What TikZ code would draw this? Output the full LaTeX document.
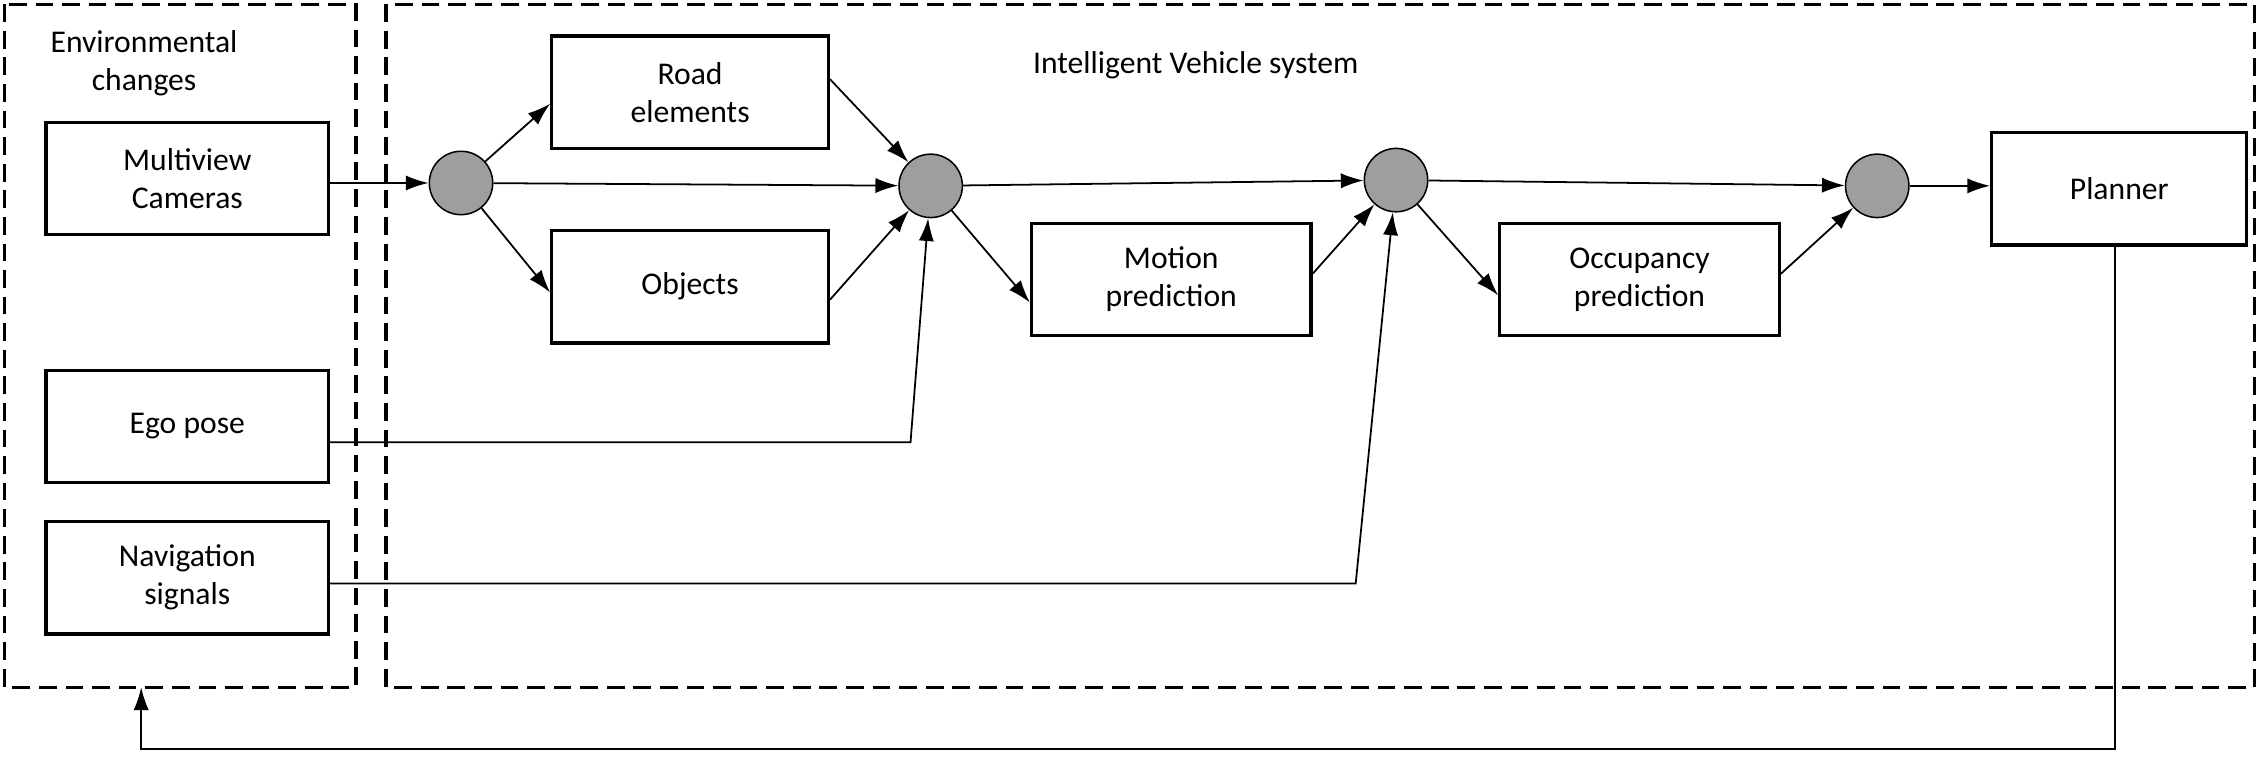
\documentclass[tikz,border=0pt]{standalone}
\usetikzlibrary{arrows.meta}
\usepackage{fontspec}
\setmainfont{Carlito}
\begin{document}
\begin{tikzpicture}[x=0.02cm,y=-0.02cm,
  box/.style={draw,line width=1.3pt,minimum width=196*0.02cm,minimum height=78*0.02cm,align=center,font=\fontsize{12.5}{15}\selectfont},
  hub/.style={circle,draw,fill=black!38,line width=0.6pt,minimum size=44*0.02cm,inner sep=0pt},
  frame/.style={line width=1.3pt,dash pattern=on 7pt off 3.5pt},
  arr/.style={line width=0.7pt,-{Latex[length=9pt,width=6pt]}},
  lbl/.style={font=\fontsize{12.5}{15}\selectfont,align=center}]
\useasboundingbox (0,0) rectangle (1568,525);
\draw[frame] (3,3) rectangle (247,477);
\draw[frame] (268,3) rectangle (1565,477);
\node[lbl] (env) at (100,44) {Environmental\\changes};
\node[lbl] (ivs) at (830,45) {Intelligent Vehicle system};
\node[box] (cam) at (130,124) {Multiview\\Cameras};
\node[box] (ego) at (130,296) {Ego pose};
\node[box] (nav) at (130,401) {Navigation\\signals};
\node[box,minimum width=192*0.02cm] (road) at (479,64) {Road\\elements};
\node[box,minimum width=192*0.02cm] (obj) at (479,199) {Objects};
\node[box,minimum width=194*0.02cm] (mot) at (813,194) {Motion\\prediction};
\node[box,minimum width=194*0.02cm] (occ) at (1138,194) {Occupancy\\prediction};
\node[box,minimum width=177*0.02cm] (plan) at (1471,131) {Planner};
\node[hub] (c1) at (320,127) {};
\node[hub] (c2) at (646,129) {};
\node[hub] (c3) at (969,125) {};
\node[hub] (c4) at (1303,129) {};
\coordinate (egoK) at (632,307);
\coordinate (navK) at (941,405);
\coordinate (fb1) at (1468,520);
\coordinate (fb2) at (98,520);
\coordinate (envB) at (98,477);
\draw[arr] (cam.east|-c1) -- (c1);
\draw[arr] (c1) -- (road.west|-0,72);
\draw[arr] (c1) -- (obj.west|-0,203);
\draw[arr] (c1) -- (c2);
\draw[arr] (road.east|-0,55) -- (c2);
\draw[arr] (obj.east|-0,208) -- (c2);
\draw[arr] (ego.east|-egoK) -- (egoK) -- (c2);
\draw[arr] (c2) -- (mot.west|-0,210);
\draw[arr] (mot.east|-0,190) -- (c3);
\draw[arr] (c2) -- (c3);
\draw[arr] (nav.east|-navK) -- (navK) -- (c3);
\draw[arr] (c3) -- (occ.west|-0,205);
\draw[arr] (occ.east|-0,190) -- (c4);
\draw[arr] (c3) -- (c4);
\draw[arr] (c4) -- (plan.west|-c4);
\draw[arr] (plan.south-|fb1) -- (fb1) -- (fb2) -- (envB);
\end{tikzpicture}
\end{document}
